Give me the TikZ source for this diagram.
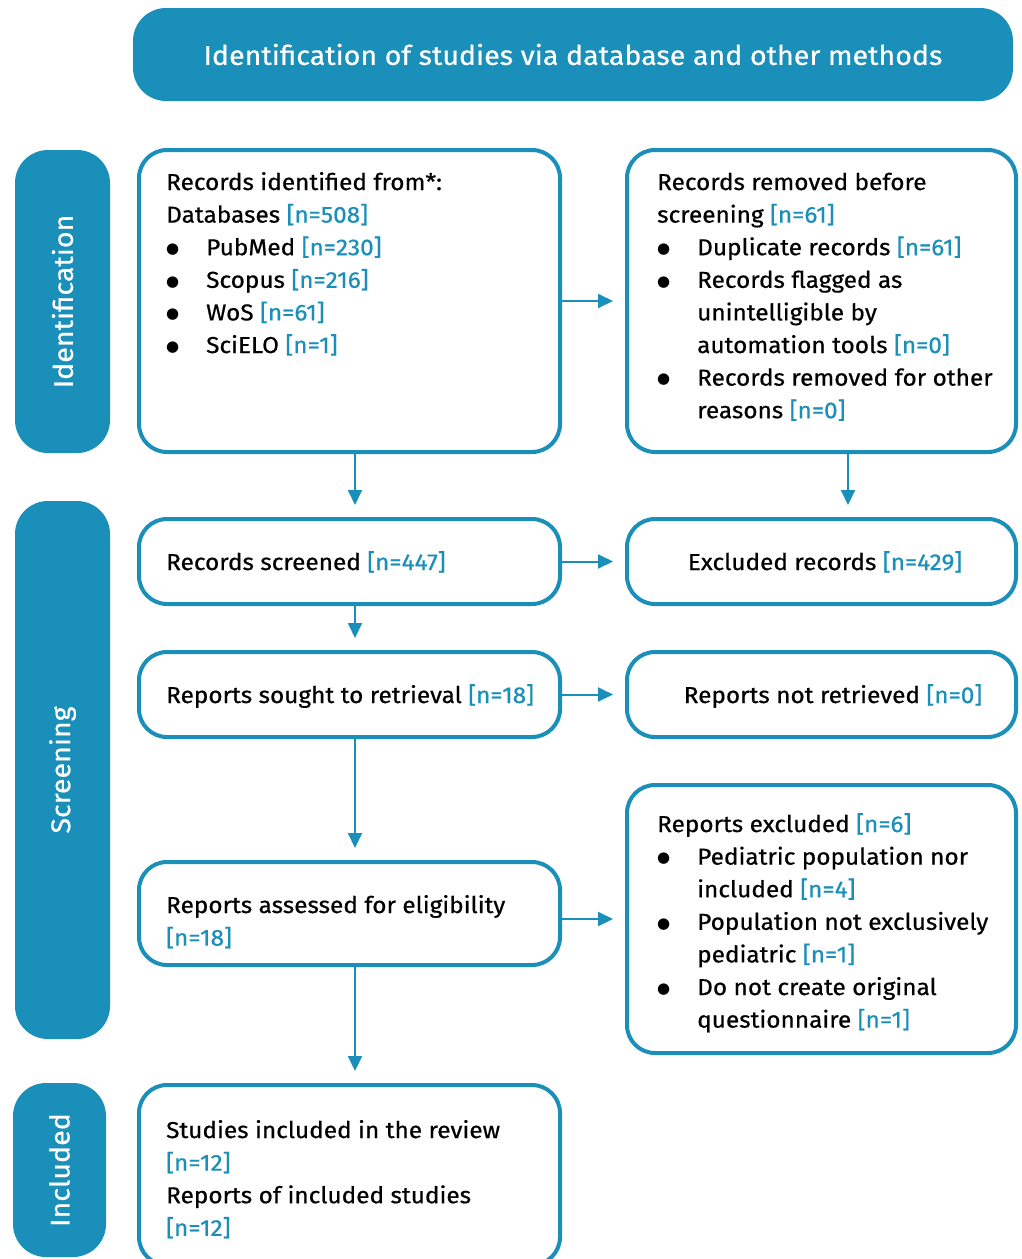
\documentclass[tikz,border=0pt]{standalone}
\usepackage{fontspec}
\setmainfont{Fira Sans}[FakeBold=0.6,FakeStretch=1.06]
\newfontfamily\dvs{DejaVu Sans}
\usetikzlibrary{arrows.meta}
\definecolor{blu}{HTML}{1A8FBA}
\newcommand{\ncnt}[1]{\textcolor{blu}{[n=#1]}}
\newcommand{\itm}{\makebox[40pt][l]{\raisebox{1.8pt}{\dvs\fontsize{15}{15}\selectfont ●}}}
\newcommand{\cnt}{\hspace*{40pt}}
\newcommand{\txt}[1]{\parbox[t]{420pt}{\raggedright #1}}
\begin{document}
\begin{tikzpicture}[x=1pt,y=-1pt,
 box/.style={draw=blu, line width=4pt, rounded corners=28pt, inner sep=0pt, fill=white},
 band/.style={fill=blu, rounded corners=33pt, inner sep=0pt, text=white, font=\fontsize{27}{29}\selectfont},
 tx/.style={anchor=base west, inner sep=0pt, font=\fontsize{23}{32.6}\selectfont},
 txc/.style={anchor=base, inner sep=0pt, font=\fontsize{23}{32.6}\selectfont},
 arr/.style={blu, line width=2pt, -{Triangle[length=15pt,width=14pt]}, shorten >=12pt}]
\useasboundingbox (0,0) rectangle (1022,1259);
% banner and bands
\node[band, minimum width=880pt, minimum height=93pt, font=\fontsize{27}{30}\selectfont] (ban) at (573,54.5) {Identification of studies via database and other methods};
\node[band, minimum width=95pt, minimum height=303pt] (idb) at (62.5,301.5) {\rotatebox{90}{Identification}};
\node[band, minimum width=95pt, minimum height=538pt] (scb) at (62.5,770) {\rotatebox{90}{Screening}};
\node[band, minimum width=93pt, minimum height=174pt] (inb) at (59.5,1170) {\rotatebox{90}{Included}};
% boxes
\node[box, minimum width=421pt, minimum height=302pt] (b1) at (349.5,301) {};
\node[box, minimum width=389pt, minimum height=302pt] (b2) at (821.5,301) {};
\node[box, minimum width=421pt, minimum height=85pt] (b3) at (349.5,561.5) {};
\node[box, minimum width=389pt, minimum height=85pt] (b4) at (821.5,561.5) {};
\node[box, minimum width=421pt, minimum height=85pt] (b5) at (349.5,694.5) {};
\node[box, minimum width=389pt, minimum height=85pt] (b6) at (821.5,694.5) {};
\node[box, minimum width=421pt, minimum height=103pt] (b7) at (349.5,913.5) {};
\node[box, minimum width=389pt, minimum height=268pt] (b8) at (821.5,919) {};
\node[box, minimum width=421pt, minimum height=180pt] (b9) at (349.5,1175) {};
% texts
\node[tx] (t1) at (166,190) {\txt{Records identified from*:\\
Databases \ncnt{508}\\
\itm PubMed \ncnt{230}\\
\itm Scopus \ncnt{216}\\
\itm WoS \ncnt{61}\\
\itm SciELO \ncnt{1}}};
\node[tx] (t2) at (657,190) {\txt{Records removed before\\
screening \ncnt{61}\\
\itm Duplicate records \ncnt{61}\\
\itm Records flagged as\\
\cnt unintelligible by\\
\cnt automation tools \ncnt{0}\\
\itm Records removed for other\\
\cnt reasons \ncnt{0}}};
\node[tx] (t3) at (166,570) {Records screened \ncnt{447}};
\node[txc] (t4) at (825,570) {Excluded records \ncnt{429}};
\node[tx] (t5) at (166,703) {Reports sought to retrieval \ncnt{18}};
\node[txc] (t6) at (833,703) {Reports not retrieved \ncnt{0}};
\node[tx] (t7) at (166,913) {\txt{Reports assessed for eligibility\\
\ncnt{18}}};
\node[tx] (t8) at (657,832) {\txt{Reports excluded \ncnt{6}\\
\itm Pediatric population nor\\
\cnt included \ncnt{4}\\
\itm Population not exclusively\\
\cnt pediatric \ncnt{1}\\
\itm Do not create original\\
\cnt questionnaire \ncnt{1}}};
\node[tx] (t9) at (166,1138) {\txt{Studies included in the review\\
\ncnt{12}\\
Reports of included studies\\
\ncnt{12}}};
% arrows
\coordinate (ax) at (355,0);
\coordinate (bx) at (848,0);
\draw[arr] (b1.east) -- (b1.east -| b2.west);
\draw[arr] (b3.east) -- (b4.west);
\draw[arr] (b5.east) -- (b6.west);
\draw[arr] (b7.east |- b8.west) -- (b8.west);
\draw[arr] (b1.south -| ax) -- (b3.north -| ax);
\draw[arr] (b2.south -| bx) -- (b4.north -| bx);
\draw[arr] (b3.south -| ax) -- (b5.north -| ax);
\draw[arr] (b5.south -| ax) -- (b7.north -| ax);
\draw[arr] (b7.south -| ax) -- (b9.north -| ax);
\end{tikzpicture}
\end{document}
